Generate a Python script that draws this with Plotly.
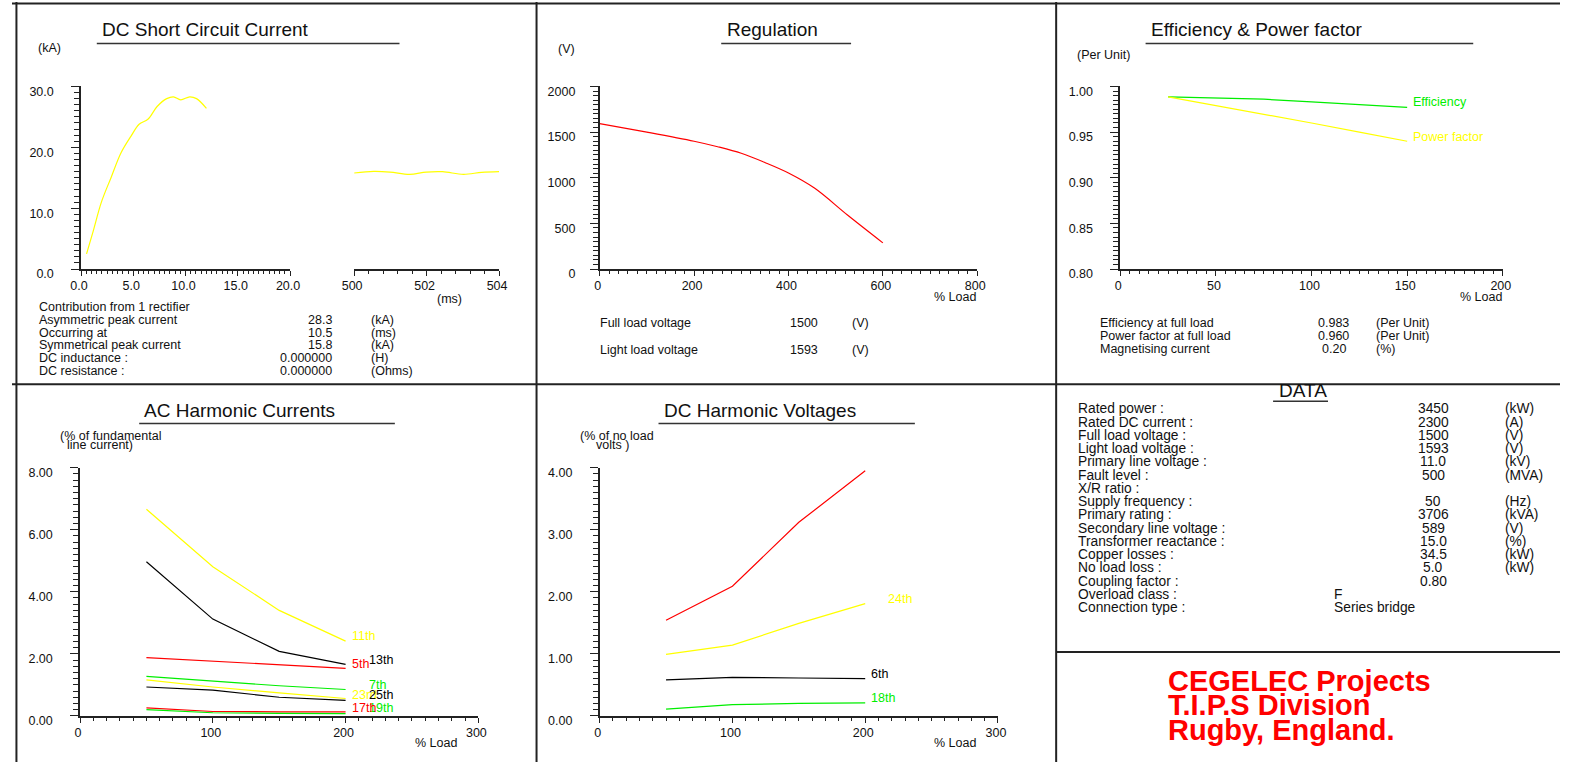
import plotly.graph_objects as go

W, H = 1570, 774
FONT = "Liberation Sans, Arial, sans-serif"
AXC = "#222222"
TXT = "#111111"
YEL, RED, GRN, BLK = "#FFFF00", "#FF0000", "#00EE00", "#000000"

# ---------------- data ----------------
sc_time_ms = [0.53, 1.16, 1.95, 2.89, 3.83, 4.77, 5.56, 6.4, 7.28, 8.2, 8.85, 9.54, 10.4, 11.05, 12.0]
sc_current_ka = [2.5, 6.2, 11.0, 15.1, 19.1, 21.8, 23.8, 24.6, 26.7, 28.0, 28.3, 27.8, 28.3, 28.0, 26.4]
ss_time_ms = [500.0, 500.54, 500.99, 501.53, 501.99, 502.44, 503.02, 503.52, 504.0]
ss_current_ka = [15.78, 16.05, 15.94, 15.56, 15.94, 16.0, 15.56, 15.89, 16.0]

reg_load = [0, 100, 200, 250, 300, 350, 400, 455, 525, 600]
reg_volt = [1593, 1500, 1400, 1340, 1268, 1167, 1052, 887, 592, 287]

eff_load = [25, 50, 75, 100, 125, 150]
efficiency = [0.9885, 0.9875, 0.986, 0.983, 0.980, 0.977]
power_factor = [0.9885, 0.979, 0.970, 0.960, 0.950, 0.940]

harm_load = [50, 100, 150, 200]
ac_harm_names = ["11th", "13th", "5th", "7th", "23rd", "25th", "17th", "19th"]
ac_harm_colors = [YEL, BLK, RED, GRN, YEL, BLK, RED, GRN]
ac_harm_values = [
    [6.66, 4.81, 3.40, 2.41],
    [4.97, 3.12, 2.08, 1.66],
    [1.88, 1.76, 1.66, 1.53],
    [1.27, 1.11, 0.97, 0.85],
    [1.16, 0.93, 0.74, 0.56],
    [0.93, 0.83, 0.60, 0.50],
    [0.26, 0.14, 0.13, 0.13],
    [0.20, 0.10, 0.08, 0.07],
]
ac_label_pos = [(203, 2.56), (215.8, 1.80), (203, 1.68), (215.8, 0.98),
                (203, 0.67), (215.8, 0.66), (203, 0.26), (215.8, 0.25)]

dc_harm_names = ["12th", "24th", "6th", "18th"]
dc_harm_colors = [RED, YEL, BLK, GRN]
dc_harm_values = [
    [1.54, 2.09, 3.12, 3.95],
    [0.99, 1.14, 1.49, 1.81],
    [0.58, 0.62, 0.61, 0.60],
    [0.11, 0.18, 0.20, 0.21],
]
dc_label_pos = [(216, 4.02), (216, 1.89), (203, 0.68), (203, 0.28)]

sc_info_labels = ["Contribution from 1 rectifier", "Asymmetric peak current", "Occurring at",
                  "Symmetrical peak current", "DC inductance :", "DC resistance :"]
sc_info_values = ["", "28.3", "10.5", "15.8", "0.000000", "0.000000"]
sc_info_units = ["", "(kA)", "(ms)", "(kA)", "(H)", "(Ohms)"]

reg_info_labels = ["Full load voltage", "Light load voltage"]
reg_info_values = ["1500", "1593"]
reg_info_units = ["(V)", "(V)"]

eff_info_labels = ["Efficiency at full load", "Power factor at full load", "Magnetising current"]
eff_info_values = ["0.983", "0.960", "0.20"]
eff_info_units = ["(Per Unit)", "(Per Unit)", "(%)"]

data_labels = ["Rated power :", "Rated DC current :", "Full load voltage :", "Light load voltage :",
               "Primary line voltage :", "Fault level :", "X/R ratio :", "Supply frequency :",
               "Primary rating :", "Secondary line voltage :", "Transformer reactance :",
               "Copper losses :", "No load loss :", "Coupling factor :", "Overload class :",
               "Connection type :"]
data_values = ["3450", "2300", "1500", "1593", "11.0", "500", "", "50", "3706", "589", "15.0",
               "34.5", "5.0", "0.80", "", ""]
data_units = ["(kW)", "(A)", "(V)", "(V)", "(kV)", "(MVA)", "", "(Hz)", "(kVA)", "(V)", "(%)",
              "(kW)", "(kW)", "", "", ""]
data_text = [""] * 14 + ["F", "Series bridge"]

company_lines = ["CEGELEC Projects", "T.I.P.S Division", "Rugby, England."]

# ---------------- helpers ----------------
def px(x):
    return x / W


def py(y):
    return 1 - y / H


fig = go.Figure()
annotations = []
shapes = []

S_TICK = 12.5
S_INFO = 12.5
S_TITLE = 19
S_DATA = 13.8


def txt(x, y, s, size=S_INFO, color=TXT, xanchor="left", bold=False):
    if s == "":
        return
    annotations.append(dict(
        x=px(x), y=py(y), xref="paper", yref="paper", text=("<b>%s</b>" % s) if bold else s,
        showarrow=False, xanchor=xanchor, yanchor="middle",
        font=dict(family=FONT, size=size, color=color), borderpad=0))


def hline(x0, x1, y, width=1.5, color=AXC):
    shapes.append(dict(type="line", xref="paper", yref="paper", x0=px(x0), x1=px(x1),
                       y0=py(y), y1=py(y), line=dict(color=color, width=width)))


def vline(x, y0, y1, width=1.5, color=AXC):
    shapes.append(dict(type="line", xref="paper", yref="paper", x0=px(x), x1=px(x),
                       y0=py(y0), y1=py(y1), line=dict(color=color, width=width)))


def xaxis_cfg(x0, x1, rng, dtick, mdtick, fmt, anchor, tickvals=None):
    d = dict(domain=[px(x0), px(x1)], range=rng, anchor=anchor, showline=True, linecolor=AXC,
             linewidth=1.5, ticks="outside", ticklen=5, tickwidth=1, tickcolor=AXC,
             dtick=dtick, tick0=rng[0], tickformat=fmt, showgrid=False, zeroline=False,
             minor=dict(dtick=mdtick, tick0=rng[0], ticks="outside", ticklen=3, tickcolor=AXC,
                        tickwidth=1, showgrid=False),
             tickfont=dict(family=FONT, size=S_TICK, color=TXT), ticklabelshift=-2,
             ticklabelstandoff=-1, fixedrange=True)
    if tickvals is not None:
        d["tickvals"] = tickvals
        d["tickmode"] = "array"
    return d


def yaxis_cfg(y0, y1, rng, dtick, mdtick, fmt, anchor, standoff=15):
    return dict(domain=[py(y0), py(y1)], range=rng, anchor=anchor, showline=True, linecolor=AXC,
                linewidth=1.5, ticks="outside", ticklen=8, tickwidth=1, tickcolor=AXC,
                dtick=dtick, tick0=rng[0], tickformat=fmt, showgrid=False, zeroline=False,
                minor=dict(dtick=mdtick, tick0=rng[0], ticks="outside", ticklen=5, tickcolor=AXC,
                           tickwidth=1, showgrid=False),
                tickfont=dict(family=FONT, size=S_TICK, color=TXT), ticklabelshift=5,
                ticklabelstandoff=standoff, fixedrange=True)


def trace(xs, ys, color, xa, ya, shape="linear"):
    fig.add_trace(go.Scatter(x=xs, y=ys, mode="lines", xaxis=xa, yaxis=ya, hoverinfo="skip",
                             line=dict(color=color, width=1.2, shape=shape)))


# ---------------- traces ----------------
trace(sc_time_ms, sc_current_ka, YEL, "x", "y", "spline")
trace(ss_time_ms, ss_current_ka, YEL, "x2", "y2", "spline")
trace(reg_load, reg_volt, RED, "x3", "y3", "spline")
trace(eff_load, efficiency, GRN, "x4", "y4")
trace(eff_load, power_factor, YEL, "x4", "y4")
for vals, col in zip(ac_harm_values, ac_harm_colors):
    trace(harm_load, vals, col, "x5", "y5")
for vals, col in zip(dc_harm_values, dc_harm_colors):
    trace(harm_load, vals, col, "x6", "y6")

# ---------------- axes ----------------
TOP = (272, 86)
BOT = (727, 474.3)
layout_axes = dict(
    xaxis=xaxis_cfg(70, 282, [0, 20], 5, 0.5, ".1f", "y"),
    yaxis=yaxis_cfg(TOP[0], TOP[1], [0, 30], 10, 1, ".1f", "x"),
    xaxis2=xaxis_cfg(347, 494, [500, 504], 2, 0.4, "d", "y2", tickvals=[500, 502, 504]),
    yaxis2=dict(domain=[py(TOP[0]), py(TOP[1])], range=[0, 30], anchor="x2", visible=False,
                fixedrange=True),
    xaxis3=xaxis_cfg(596, 979, [0, 800], 200, 20, "d", "y3"),
    yaxis3=yaxis_cfg(TOP[0], TOP[1], [0, 2000], 500, 50, "d", "x3", standoff=12),
    xaxis4=xaxis_cfg(1124, 1512, [0, 200], 50, 5, "d", "y4"),
    yaxis4=yaxis_cfg(TOP[0], TOP[1], [0.80, 1.00], 0.05, 0.005, ".2f", "x4"),
    xaxis5=xaxis_cfg(69, 473, [0, 300], 100, 10, "d", "y5"),
    yaxis5=yaxis_cfg(BOT[0], BOT[1], [0, 8], 2, 0.2, ".2f", "x5"),
    xaxis6=xaxis_cfg(596, 1000, [0, 300], 100, 10, "d", "y6"),
    yaxis6=yaxis_cfg(BOT[0], BOT[1], [0, 4], 1, 0.1, ".2f", "x6"),
)

# ---------------- panel frame ----------------
hline(0, W, 1.5, width=2)
vline(4.5, 0, H, width=2)
vline(532, 0, H, width=2)
vline(1059, 0, H, width=2)
hline(0, W, 389.3, width=2)
hline(1059, W, 662, width=2)

# ---------------- titles ----------------
titles = [("DC Short Circuit Current", 90.7, 28, 86, 393, 42.3),
          ("Regulation", 724.3, 28, 719.3, 851, 42.3),
          ("Efficiency & Power factor", 1153.7, 28, 1149.7, 1482, 42.3),
          ("AC Harmonic Currents", 132.7, 416, 129, 388.3, 429.3),
          ("DC Harmonic Voltages", 660, 416, 655.7, 915.7, 429.3),
          ("DATA", 1283.7, 396, 1279, 1334.7, 406.7)]
for t, tx, ty, u0, u1, uy in titles:
    txt(tx, ty, t, size=S_TITLE)
    hline(u0, u1, uy, width=1.5, color="#333333")

# axis titles
txt(38, 47, "(kA)", xanchor="center")
txt(444, 302, "(ms)", xanchor="center")
txt(562, 47.5, "(V)", xanchor="center")
txt(979, 300, "% Load", xanchor="right")
txt(1107, 54, "(Per Unit)", xanchor="center")
txt(1512, 300, "% Load", xanchor="right")
txt(48, 442.5, "(% of fundamental")
txt(55, 451.5, "line current)")
txt(452, 755, "% Load", xanchor="right")
txt(575, 442.5, "(% of no load")
txt(591, 451.5, "volts )")
txt(979, 755, "% Load", xanchor="right")

# info blocks
for i, (lab, val, unit) in enumerate(zip(sc_info_labels, sc_info_values, sc_info_units)):
    yy = 310.7 + i * 13.0
    txt(26.7, yy, lab)
    txt(326, yy, val, xanchor="right")
    txt(362.7, yy, unit)

for i, (lab, val, unit) in enumerate(zip(reg_info_labels, reg_info_values, reg_info_units)):
    yy = 326.7 + i * 27.3
    txt(595.7, yy, lab)
    txt(818.3, yy, val, xanchor="right")
    txt(851, yy, unit)

for i, (lab, val, unit) in enumerate(zip(eff_info_labels, eff_info_values, eff_info_units)):
    yy = 326.7 + i * 13.6
    txt(1102, yy, lab)
    txt(1340.5, yy, val, xanchor="center")
    txt(1382.7, yy, unit)

for i, (lab, val, unit, extra) in enumerate(zip(data_labels, data_values, data_units, data_text)):
    yy = 414.3 + i * 13.5
    txt(1080.3, yy, lab, size=S_DATA)
    txt(1441.7, yy, val, size=S_DATA, xanchor="center")
    txt(1512.7, yy, unit, size=S_DATA)
    txt(1339.7, yy, extra, size=S_DATA)

for i, line_s in enumerate(company_lines):
    txt(1171.3, 691 + i * 25, line_s, size=29, color=RED, bold=True)

# series labels inside plots
annotations.append(dict(x=150, y=0.977, xref="x4", yref="y4", text="Efficiency", showarrow=False,
                        xanchor="left", yanchor="middle", xshift=4, yshift=5,
                        font=dict(family=FONT, size=S_INFO, color=GRN)))
annotations.append(dict(x=150, y=0.940, xref="x4", yref="y4", text="Power factor", showarrow=False,
                        xanchor="left", yanchor="middle", xshift=4, yshift=4,
                        font=dict(family=FONT, size=S_INFO, color=YEL)))
ac_order = [3, 7, 4, 5, 0, 1, 2, 6]
for k in ac_order:
    lx, ly = ac_label_pos[k]
    annotations.append(dict(x=lx, y=ly, xref="x5", yref="y5", text=ac_harm_names[k],
                            showarrow=False, xanchor="left", yanchor="middle",
                            font=dict(family=FONT, size=S_INFO, color=ac_harm_colors[k])))
for k, name in enumerate(dc_harm_names):
    lx, ly = dc_label_pos[k]
    annotations.append(dict(x=lx, y=ly, xref="x6", yref="y6", text=name, showarrow=False,
                            xanchor="left", yanchor="middle",
                            font=dict(family=FONT, size=S_INFO, color=dc_harm_colors[k])))

fig.update_layout(
    autosize=True, margin=dict(l=0, r=0, t=0, b=0, pad=0),
    paper_bgcolor="white", plot_bgcolor="white", showlegend=False,
    font=dict(family=FONT, size=S_INFO, color=TXT),
    annotations=annotations, shapes=shapes, **layout_axes)

post = ("document.documentElement.style.margin='0';document.documentElement.style.padding='0';"
        "document.documentElement.style.overflow='hidden';"
        "document.body.style.margin='0';document.body.style.padding='0';"
        "document.body.style.overflow='hidden';"
        "var gd=document.getElementById('{plot_id}');"
        "Plotly.Plots.resize(gd);")

fig.write_html("out.html", config={"displayModeBar": False, "responsive": True},
               default_width="100vw", default_height="100vh", post_script=post)
